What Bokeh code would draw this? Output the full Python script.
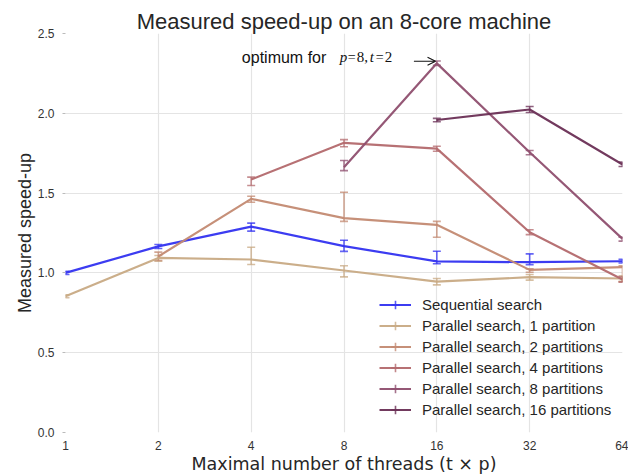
import math
from bokeh.plotting import figure
from bokeh.models import (ColumnDataSource, Whisker, TeeHead, Legend, LegendItem,
                          FixedTicker, Label, Arrow, OpenHead, Range1d)
from bokeh.embed import file_html
from bokeh.resources import INLINE

# ---------------- data ----------------
threads = [1, 2, 4, 8, 16, 32, 64]

seq_x = [1, 2, 4, 8, 16, 32, 64]
seq_y = [1.00, 1.166, 1.290, 1.168, 1.072, 1.067, 1.073]
seq_lo = [0.990, 1.153, 1.262, 1.135, 1.057, 1.052, 1.062]
seq_hi = [1.010, 1.178, 1.312, 1.205, 1.136, 1.119, 1.085]

p1_x = [1, 2, 4, 8, 16, 32, 64]
p1_y = [0.854, 1.094, 1.084, 1.015, 0.945, 0.973, 0.965]
p1_lo = [0.845, 1.073, 1.053, 0.975, 0.925, 0.955, 0.948]
p1_hi = [0.863, 1.109, 1.161, 1.045, 0.965, 0.990, 0.982]

p2_x = [2, 4, 8, 16, 32, 64]
p2_y = [1.103, 1.464, 1.343, 1.301, 1.019, 1.036]
p2_lo = [1.078, 1.443, 1.323, 1.223, 1.004, 0.945]
p2_hi = [1.130, 1.480, 1.505, 1.323, 1.025, 1.045]

p4_x = [4, 8, 16, 32, 64]
p4_y = [1.585, 1.815, 1.779, 1.255, 0.958]
p4_lo = [1.548, 1.790, 1.762, 1.240, 0.942]
p4_hi = [1.600, 1.835, 1.794, 1.270, 0.975]

p8_x = [8, 16, 32, 64]
p8_y = [1.662, 2.313, 1.756, 1.213]
p8_lo = [1.641, 2.300, 1.740, 1.199]
p8_hi = [1.704, 2.328, 1.767, 1.224]

p16_x = [16, 32, 64]
p16_y = [1.958, 2.024, 1.679]
p16_lo = [1.947, 2.005, 1.667]
p16_hi = [1.968, 2.043, 1.694]

names = ["Sequential search", "Parallel search, 1 partition",
         "Parallel search, 2 partitions", "Parallel search, 4 partitions",
         "Parallel search, 8 partitions", "Parallel search, 16 partitions"]
colors = ["#3232f0", "#c8aa84", "#c38a72", "#b3696d", "#8f4f6f", "#6a2f55"]

y_ticks = [0.0, 0.5, 1.0, 1.5, 2.0, 2.5]

title_text = "Measured speed-up on an 8-core machine"
x_label = "Maximal number of threads (t \u00d7 p)"
y_label = "Measured speed-up"
optimum_x = 16
optimum_y = 2.313

series = [
    (seq_x, seq_y, seq_lo, seq_hi),
    (p1_x, p1_y, p1_lo, p1_hi),
    (p2_x, p2_y, p2_lo, p2_hi),
    (p4_x, p4_y, p4_lo, p4_hi),
    (p8_x, p8_y, p8_lo, p8_hi),
    (p16_x, p16_y, p16_lo, p16_hi),
]

SANS = "Liberation Sans"

p = figure(frame_width=557, frame_height=399, x_axis_type="log",
           x_range=Range1d(1, 64), y_range=Range1d(0, 2.5),
           output_backend="svg", toolbar_location=None,
           min_border_left=65, min_border_right=6,
           min_border_top=33, min_border_bottom=43)

p.title.text = title_text
p.title.align = "center"
p.title.text_font = SANS
p.title.text_font_size = "22px"
p.title.text_font_style = "normal"
p.title.text_color = "#262626"
p.title.offset = 0
p.title.standoff = 0

p.outline_line_color = None
p.background_fill_color = "white"
p.border_fill_color = "white"

for g in (p.xgrid, p.ygrid):
    g.grid_line_color = "#e4e4e4"
    g.grid_line_width = 1.2

p.xaxis.ticker = FixedTicker(ticks=threads)
p.xaxis.major_label_overrides = {t: str(t) for t in threads}
p.xaxis.minor_tick_line_color = None
p.yaxis.ticker = FixedTicker(ticks=y_ticks)
p.yaxis.major_label_overrides = {t: "%.1f" % t for t in y_ticks}
p.yaxis.minor_tick_line_color = None

for ax in (p.xaxis, p.yaxis):
    ax.axis_line_color = None
    ax.major_tick_line_color = "#bbbbbb"
    ax.major_tick_in = 0
    ax.major_label_text_font = SANS
    ax.major_label_text_font_size = "12px"
    ax.major_label_text_color = "#333333"

p.xaxis.major_tick_out = 0
p.xaxis.major_label_standoff = 8
p.yaxis.major_tick_out = 3
p.yaxis.major_label_standoff = 8

p.xaxis.axis_label = x_label
p.xaxis.axis_label_text_font = "DejaVu Sans"
p.xaxis.axis_label_text_font_size = "17.5px"
p.xaxis.axis_label_text_font_style = "normal"
p.xaxis.axis_label_text_color = "#262626"
p.xaxis.axis_label_standoff = 1

p.yaxis.axis_label = y_label
p.yaxis.axis_label_text_font = SANS
p.yaxis.axis_label_text_font_size = "18px"
p.yaxis.axis_label_text_font_style = "normal"
p.yaxis.axis_label_text_color = "#262626"
p.yaxis.axis_label_standoff = 0

items = []
for (xs, ys, lo, hi), name, c in zip(series, names, colors):
    src = ColumnDataSource(dict(x=xs, y=ys, lower=lo, upper=hi))
    line = p.line("x", "y", source=src, line_color=c, line_width=2.2, line_alpha=0.95)
    w = Whisker(source=src, base="x", lower="lower", upper="upper", dimension="height",
                line_color=c, line_width=1.6, line_alpha=0.75,
                upper_head=TeeHead(size=8, line_color=c, line_width=1.6, line_alpha=0.75),
                lower_head=TeeHead(size=8, line_color=c, line_width=1.6, line_alpha=0.75))
    p.add_layout(w)
    # legend-only marker (error-bar cross); NaN position so nothing is drawn in the plot
    dummy = p.scatter(x=[float("nan")], y=[float("nan")], marker="cross", size=16,
                      line_color=c, line_width=1.6, line_alpha=0.8)
    items.append(LegendItem(label=name, renderers=[line, dummy]))

legend = Legend(items=items, location=(314, 12), padding=0, margin=0,
                background_fill_alpha=0, border_line_color=None,
                glyph_width=32, glyph_height=21, label_height=21, spacing=0,
                label_standoff=11,
                label_text_font=SANS, label_text_font_size="15px",
                label_text_color="#262626")
p.add_layout(legend, "center")

# annotation
arrow = Arrow(end=OpenHead(size=8, line_color="#111111", line_width=1.1),
              x_start=optimum_x / 2 ** 0.247, y_start=optimum_y + 0.013,
              x_end=optimum_x / 2 ** 0.014, y_end=optimum_y + 0.013,
              line_color="#111111", line_width=1.1)
p.add_layout(arrow)

pieces = [
    ("optimum for", -195, SANS, "normal", "16px"),
    ("p", -97, "Liberation Serif", "italic", "15px"),
    ("=", -89, "Liberation Serif", "normal", "14px"),
    ("8,", -80, "Liberation Serif", "normal", "15px"),
    ("t", -67, "Liberation Serif", "italic", "15px"),
    ("=", -61, "Liberation Serif", "normal", "14px"),
    ("2", -52, "Liberation Serif", "normal", "15px"),
]
for txt, off, font, style, size in pieces:
    p.add_layout(Label(x=optimum_x, y=optimum_y, x_offset=off, y_offset=6,
                       text=txt, text_font=font, text_font_style=style,
                       text_font_size=size, text_color="#111111",
                       text_baseline="middle", text_align="left"))

open("out.html", "w").write(file_html(p, INLINE))
